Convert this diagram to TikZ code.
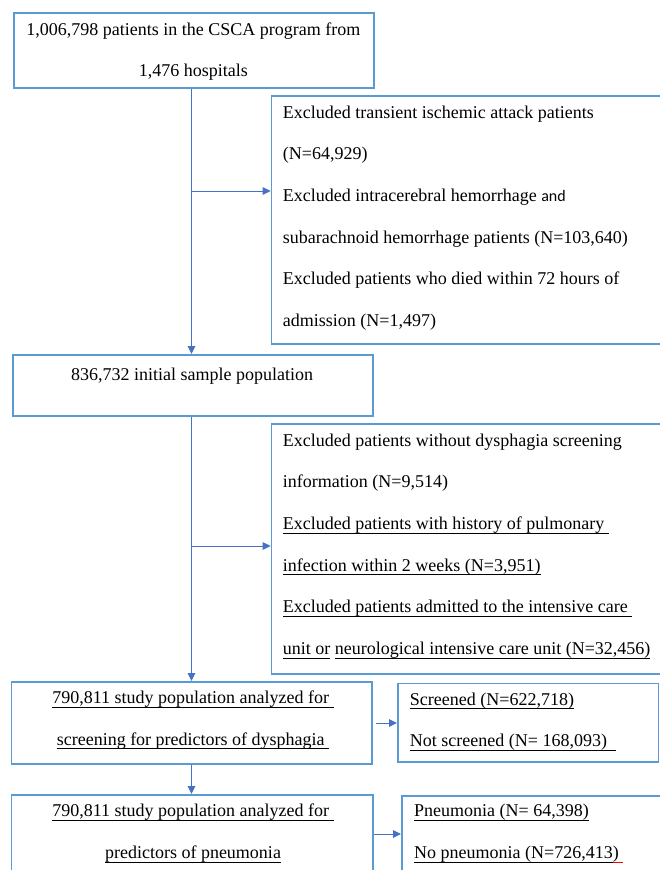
\documentclass[tikz,border=0pt]{standalone}
\usepackage{fontspec}
\setmainfont{Liberation Serif}
\newfontfamily\andfont{Carlito}
\usepackage{xcolor}
\usetikzlibrary{arrows.meta, positioning, calc}
\definecolor{boxblue}{RGB}{91, 155, 213}
\definecolor{arrowblue}{RGB}{68, 114, 196}
\newsavebox{\ulxbox}
\newcommand{\tsp}{\hbox to 0.25em{}}
\newcommand{\ulx}[1]{\sbox{\ulxbox}{#1}\rlap{\rule[-4pt]{\wd\ulxbox}{0.8pt}}\usebox{\ulxbox}}
\newcommand{\redulx}[1]{\sbox{\ulxbox}{#1}\rlap{\textcolor{red}{\rule[-4pt]{\wd\ulxbox}{0.8pt}}}\usebox{\ulxbox}}
\tikzset{
    flowbox/.style={draw=boxblue, line width=1.7pt, inner sep=0pt, anchor=north west},
    flowtext/.style={inner sep=0pt, font=\fontsize{18}{41.7}\selectfont},
    flowarrow/.style={draw=arrowblue, line width=1pt, -{Triangle[length=8pt, width=7.5pt]}}
}

\begin{document}
\begin{tikzpicture}[x=1pt, y=-1pt]
    \useasboundingbox (0,0) rectangle (659,870);
    % boxes
    \node[flowbox, minimum width=360pt, minimum height=75pt] (b1) at (13.3,12.3) {};
    \node[flowbox, minimum width=430pt, minimum height=248pt] (b2) at (270.7,95) {};
    \node[flowbox, minimum width=360pt, minimum height=61pt] (b3) at (12.3,354) {};
    \node[flowbox, minimum width=430pt, minimum height=250pt] (b4) at (270.7,423.3) {};
    \node[flowbox, minimum width=360.5pt, minimum height=82.3pt] (b5) at (10.5,681) {};
    \node[flowbox, minimum width=260.6pt, minimum height=78.3pt] (b6) at (397,682.7) {};
    \node[flowbox, minimum width=361.5pt, minimum height=110pt] (b7) at (10.5,794) {};
    \node[flowbox, minimum width=300pt, minimum height=110pt] (b8) at (401,795) {};
    % texts
    \node[flowtext, align=center, anchor=north] (t1) at (193.3,5.8)
        {\strut 1,006,798 patients in the CSCA program from\\1,476 hospitals};
    \node[flowtext, align=left, anchor=north west] (t2) at (282.7,88.8)
        {\strut Excluded transient ischemic attack patients\\(N=64,929)\\
         Excluded intracerebral hemorrhage {\andfont\fontsize{16}{41.7}\selectfont and}\\
         subarachnoid hemorrhage patients (N=103,640)\\
         Excluded patients who died within 72 hours of\\admission (N=1,497)};
    \node[flowtext, align=center, anchor=north] (t3) at (192,351.5)
        {\strut 836,732 initial sample population};
    \node[flowtext, align=left, anchor=north west] (t4) at (282.7,416.8)
        {\strut Excluded patients without dysphagia screening\\information (N=9,514)\\
         \ulx{Excluded patients with history of pulmonary\tsp}\\
         \ulx{infection within 2 weeks (N=3,951)}\\
         \ulx{Excluded patients admitted to the intensive care\tsp}\\
         \ulx{unit or} \ulx{neurological intensive care unit (N=32,456)}};
    \node[flowtext, align=center, anchor=north] (t5) at (193,674)
        {\strut\ulx{790,811 study population analyzed for\tsp}\\
         \ulx{screening for predictors of dysphagia\tsp}};
    \node[flowtext, align=left, anchor=north west] (t6) at (409.7,675.8)
        {\strut\ulx{Screened (N=622,718)}\\\ulx{Not screened (N= 168,093)\tsp\tsp}};
    \node[flowtext, align=center, anchor=north] (t7) at (193,787.5)
        {\strut\ulx{790,811 study population analyzed for\tsp}\\
         \ulx{predictors of pneumonia}};
    \node[flowtext, align=left, anchor=north west] (t8) at (414,787.5)
        {\strut\ulx{Pneumonia (N= 64,398)}\\\ulx{No pneumonia (N=726,413}\redulx{)\tsp}};
    % connectors
    \coordinate (spine) at (191.5,0);
    \draw[flowarrow] (b1.south -| spine) -- (b3.north -| spine);
    \coordinate (j1) at (191.5,191);
    \draw[flowarrow] (j1) -- (j1 -| b2.west);
    \draw[flowarrow] (b3.south -| spine) -- (b5.north -| spine);
    \coordinate (j2) at (191.5,546);
    \draw[flowarrow] (j2) -- (j2 -| b4.west);
    \draw[flowarrow] ([xshift=3pt]b5.east) -- (b5.east -| b6.west);
    \draw[flowarrow] (b5.south -| spine) -- (b7.north -| spine);
    \coordinate (j3) at (374,834);
    \draw[flowarrow] (j3) -- (j3 -| b8.west);
\end{tikzpicture}
\end{document}
